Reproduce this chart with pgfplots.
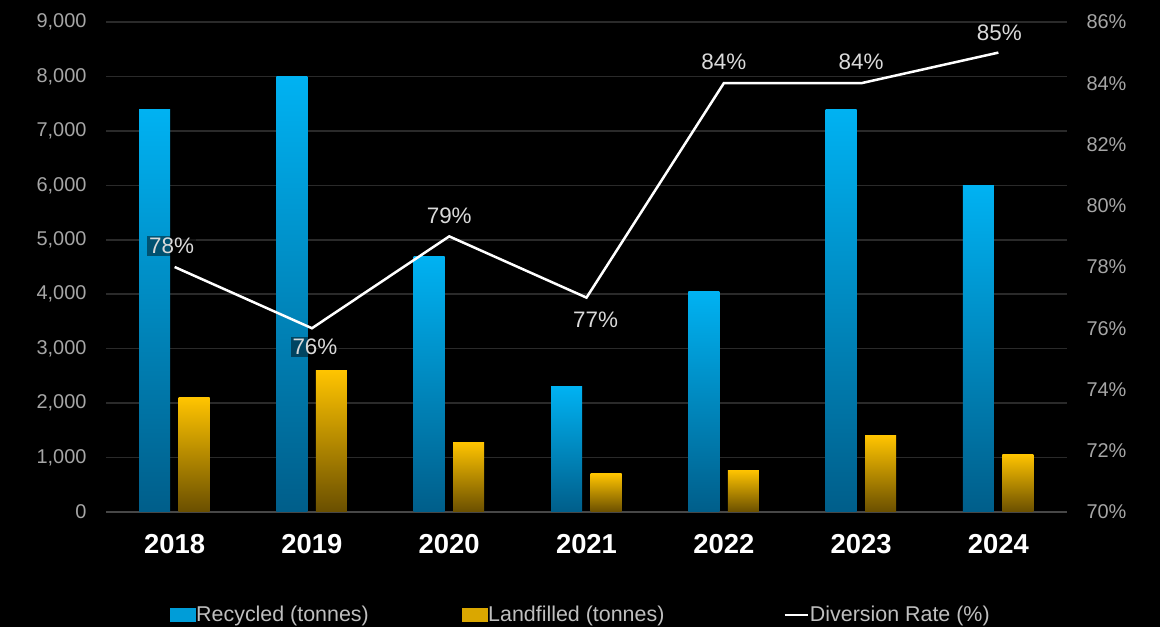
\documentclass[border=0pt]{standalone}
\usepackage{pgfplots}
\pgfplotsset{compat=1.18}
\usepackage{pgfplotstable}
\usepackage{fontspec}
\setmainfont{Liberation Sans}
\definecolor{blueT}{HTML}{00B2F2}
\definecolor{blueB}{HTML}{005E8A}
\definecolor{goldT}{HTML}{FFC400}
\definecolor{goldB}{HTML}{6A4F00}
\definecolor{gridc}{HTML}{2A2A2A}
\definecolor{zeroc}{HTML}{474747}
\definecolor{tickc}{HTML}{A6A6A6}
\definecolor{labc}{HTML}{DADADA}
\definecolor{legc}{HTML}{BFBFBF}

\pgfplotstableread{
x rec land
0 7400 2100
1 8000 2600
2 4700 1280
3 2300 700
4 4050 770
5 7400 1400
6 6000 1060
}\wastedata

\pgfplotstableread{
x rate dx dy
0 78 -3 21
1 76 3 -19
2 79 0 21
3 77 9 -22
4 84 0 21
5 84 0 21
6 85 1 20
}\ratedata

\begin{document}
\begin{tikzpicture}[x=1bp,y=1bp]
\fill[black, use as bounding box] (0,0) rectangle (1160,627);
\begin{axis}[
  at={(106bp,115bp)}, anchor=south west,
  scale only axis, width=961bp, height=490bp,
  xmin=-0.5, xmax=6.5, ymin=0, ymax=9000,
  xtick={0,...,6}, xticklabels={2018,2019,2020,2021,2022,2023,2024},
  ytick={0,1000,...,9000},
  scaled y ticks=false,
  /pgf/number format/assume math mode=true,
  /pgf/number format/1000 sep={,},
  ymajorgrids, grid style={gridc, line width=1.5bp},
  axis line style={draw=none}, major tick length=0pt,
  yticklabel style={font=\fontsize{20}{23}\selectfont, text=tickc, xshift=-16bp},
  xticklabel style={font=\fontsize{27.5}{31}\selectfont\bfseries, text=white, yshift=-19bp},
  clip=false,
  unbounded coords=discard,
]
\draw[zeroc, line width=1.5bp] (axis cs:-0.5,0) -- (axis cs:6.5,0);
\pgfplotsinvokeforeach{0,...,6}{
\addplot[ybar, bar width=31bp, bar shift=-20bp, draw=none, top color=blueT, bottom color=blueB,
  restrict x to domain=#1:#1] table[x=x, y=rec] {\wastedata};
\addplot[ybar, bar width=31bp, bar shift=19.5bp, draw=none, top color=goldT, bottom color=goldB,
  restrict x to domain=#1:#1] table[x=x, y=land] {\wastedata};
}
\end{axis}
\begin{axis}[
  at={(106bp,115bp)}, anchor=south west,
  scale only axis, width=961bp, height=490bp,
  xmin=-0.5, xmax=6.5, ymin=70, ymax=86,
  ytick={70,72,...,86},
  yticklabel={\pgfmathprintnumber{\tick}\%},
  /pgf/number format/assume math mode=true,
  axis y line*=right, axis x line=none,
  axis line style={draw=none}, major tick length=0pt,
  yticklabel style={font=\fontsize{20}{23}\selectfont, text=tickc, xshift=16bp},
  clip=false,
  legend style={at={(0.4935,-0.21)}, anchor=center, draw=none, fill=none,
    text=legc, font=\fontsize{21.5}{25}\selectfont,
    /tikz/column 2/.style={column sep=92bp},
    /tikz/column 4/.style={column sep=118bp},
    nodes={inner xsep=1bp}},
  legend columns=3,
]
\addlegendimage{legend image code/.code={\fill[blueT!75!blueB] (0bp,-6.5bp) rectangle (25bp,6.5bp);}}
\addlegendentry{Recycled (tonnes)}
\addlegendimage{legend image code/.code={\fill[goldT!75!goldB] (0bp,-6.5bp) rectangle (25bp,6.5bp);}}
\addlegendentry{Landfilled (tonnes)}
\addplot[white, line width=2.5bp, mark=none,
  legend image code/.code={\draw[white, line width=2.5bp] (0bp,0bp) -- (23bp,0bp);},
  visualization depends on={\thisrow{dx} \as \ldx},
  visualization depends on={\thisrow{dy} \as \ldy},
  nodes near coords={\pgfmathprintnumber{\pgfplotspointmeta}\%},
  point meta=explicit,
  every node near coord/.append style={anchor=center, xshift=\ldx bp, yshift=\ldy bp,
    font=\fontsize{22.5}{26}\selectfont, text=labc, fill=black, fill opacity=0.45,
    text opacity=1, inner sep=2bp},
] table[x=x, y=rate, meta=rate] {\ratedata};
\addlegendentry{Diversion Rate (\%)}
\end{axis}
\end{tikzpicture}
\end{document}
